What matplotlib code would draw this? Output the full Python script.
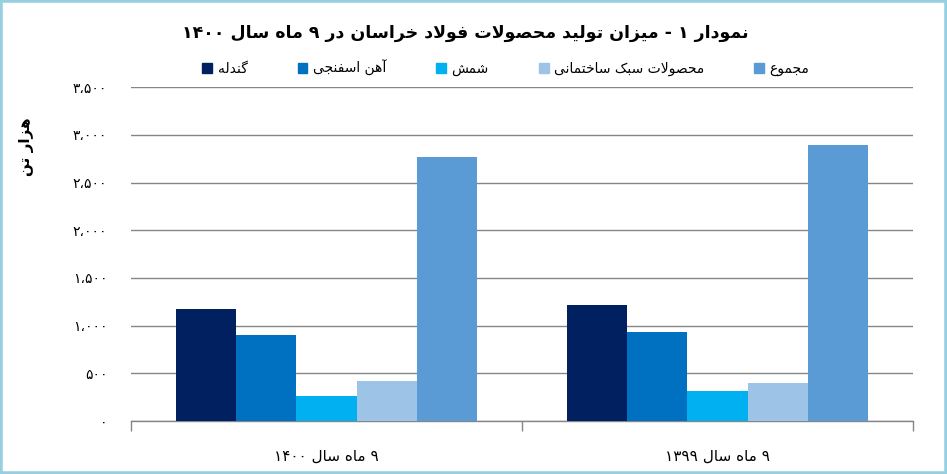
import re
import matplotlib
matplotlib.use("Agg")
import matplotlib.pyplot as plt
from matplotlib.patches import Rectangle, Patch

plt.rcParams['font.family'] = ['DejaVu Sans']

title = "نمودار ۱ - میزان تولید محصولات فولاد خراسان در ۹ ماه سال ۱۴۰۰"
ylabel = "هزار تن"
categories = ["۹ ماه سال ۱۴۰۰", "۹ ماه سال ۱۳۹۹"]
series = ["گندله", "آهن اسفنجی", "شمش", "محصولات سبک ساختمانی", "مجموع"]
colors = ["#002060", "#0070C0", "#00B0F0", "#9DC3E6", "#5B9BD5"]

pellet = [1175, 1217]
sponge_iron = [902, 934]
billet = [262, 315]
light_products = [420, 399]
total = [2769, 2895]
values = [pellet, sponge_iron, billet, light_products, total]

yticks = [0, 500, 1000, 1500, 2000, 2500, 3000, 3500]
ytick_labels = ["۰", "۵۰۰", "۱،۰۰۰", "۱،۵۰۰", "۲،۰۰۰", "۲،۵۰۰", "۳،۰۰۰", "۳،۵۰۰"]

# contextual forms (isolated, final, initial, medial)
FORMS = {
    'ا': ('\uFE8D', '\uFE8E', None, None),
    'آ': ('\uFE81', '\uFE82', None, None),
    'ب': ('\uFE8F', '\uFE90', '\uFE91', '\uFE92'),
    'پ': ('\uFB56', '\uFB57', '\uFB58', '\uFB59'),
    'ت': ('\uFE95', '\uFE96', '\uFE97', '\uFE98'),
    'ث': ('\uFE99', '\uFE9A', '\uFE9B', '\uFE9C'),
    'ج': ('\uFE9D', '\uFE9E', '\uFE9F', '\uFEA0'),
    'چ': ('\uFB7A', '\uFB7B', '\uFB7C', '\uFB7D'),
    'ح': ('\uFEA1', '\uFEA2', '\uFEA3', '\uFEA4'),
    'خ': ('\uFEA5', '\uFEA6', '\uFEA7', '\uFEA8'),
    'د': ('\uFEA9', '\uFEAA', None, None),
    'ذ': ('\uFEAB', '\uFEAC', None, None),
    'ر': ('\uFEAD', '\uFEAE', None, None),
    'ز': ('\uFEAF', '\uFEB0', None, None),
    'ژ': ('\uFB8A', '\uFB8B', None, None),
    'س': ('\uFEB1', '\uFEB2', '\uFEB3', '\uFEB4'),
    'ش': ('\uFEB5', '\uFEB6', '\uFEB7', '\uFEB8'),
    'ص': ('\uFEB9', '\uFEBA', '\uFEBB', '\uFEBC'),
    'ض': ('\uFEBD', '\uFEBE', '\uFEBF', '\uFEC0'),
    'ط': ('\uFEC1', '\uFEC2', '\uFEC3', '\uFEC4'),
    'ظ': ('\uFEC5', '\uFEC6', '\uFEC7', '\uFEC8'),
    'ع': ('\uFEC9', '\uFECA', '\uFECB', '\uFECC'),
    'غ': ('\uFECD', '\uFECE', '\uFECF', '\uFED0'),
    'ف': ('\uFED1', '\uFED2', '\uFED3', '\uFED4'),
    'ق': ('\uFED5', '\uFED6', '\uFED7', '\uFED8'),
    'ک': ('\uFB8E', '\uFB8F', '\uFB90', '\uFB91'),
    'گ': ('\uFB92', '\uFB93', '\uFB94', '\uFB95'),
    'ل': ('\uFEDD', '\uFEDE', '\uFEDF', '\uFEE0'),
    'م': ('\uFEE1', '\uFEE2', '\uFEE3', '\uFEE4'),
    'ن': ('\uFEE5', '\uFEE6', '\uFEE7', '\uFEE8'),
    'ه': ('\uFEE9', '\uFEEA', '\uFEEB', '\uFEEC'),
    'و': ('\uFEED', '\uFEEE', None, None),
    'ی': ('\uFBFC', '\uFBFD', '\uFBFE', '\uFBFF'),
}
LAM_ALEF = {'ا': ('\uFEFB', '\uFEFC'), 'آ': ('\uFEF5', '\uFEF6')}
DIGITS = "۰۱۲۳۴۵۶۷۸۹0123456789"


def joins_next(c):
    return c in FORMS and FORMS[c][2] is not None


def shape(s):
    out = []
    i = 0
    while i < len(s):
        c = s[i]
        if c not in FORMS:
            out.append(c)
            i += 1
            continue
        link_prev = i > 0 and joins_next(s[i-1])
        if c == 'ل' and i+1 < len(s) and s[i+1] in LAM_ALEF:
            iso, fin = LAM_ALEF[s[i+1]]
            out.append(fin if link_prev else iso)
            i += 2
            continue
        link_next = joins_next(c) and i+1 < len(s) and s[i+1] in FORMS
        f = FORMS[c]
        if link_prev and link_next:
            out.append(f[3])
        elif link_prev:
            out.append(f[1])
        elif link_next:
            out.append(f[2])
        else:
            out.append(f[0])
        i += 1
    return ''.join(out)


def fa(s):
    #shape letters, then lay out right to left keeping numbers left to right
    s = shape(s)
    runs = re.findall(r'[۰-۹0-9]+(?:[،٬,.][۰-۹0-9]+)*|[^۰-۹0-9]+', s)
    return ''.join(r if r[0] in DIGITS else r[::-1] for r in reversed(runs))


fig = plt.figure(figsize=(9.47, 4.74), dpi=100)
ax = fig.add_axes([131/947, 1-421/474, (913-131)/947, (421-87.3)/474])

width = 0.154
x = range(len(categories))
for k, (name, vals) in enumerate(zip(series, values)):
    offs = (k - 2) * width
    ax.bar([xi + offs for xi in x], vals, width, color=colors[k], label=fa(name), zorder=3)

ax.set_xlim(-0.5, 1.5)
ax.set_ylim(0, 3500)
ax.set_yticks(yticks)
ax.set_yticklabels([fa(t) for t in ytick_labels], fontsize=10)
ax.tick_params(axis='y', length=0, pad=17)
ax.yaxis.grid(True, color='#868686', linewidth=1.0, zorder=0)

# category boundaries as ticks, labels on minor ticks
ax.set_xticks([-0.5, 0.5, 1.5])
ax.set_xticklabels([])
ax.tick_params(axis='x', which='major', length=7, color='#868686', width=1.0, direction='out')
ax.set_xticks(list(x), minor=True)
ax.set_xticklabels([fa(c) for c in categories], minor=True, fontsize=11)
ax.tick_params(axis='x', which='minor', length=0, pad=20)

for side in ['left', 'right', 'top']:
    ax.spines[side].set_visible(False)
ax.spines['bottom'].set_color('#868686')
ax.spines['bottom'].set_linewidth(1.0)

fig.text(465/947, 1-33/474, fa(title), ha='center', va='center', fontsize=12.5, fontweight='bold')
fig.text(27/947, 1-147/474, fa(ylabel), ha='center', va='center', rotation=90, fontsize=11, fontweight='bold')

handles = [Patch(color=c, label=fa(n)) for c, n in zip(colors, series)]
fig.legend(handles=handles, loc='center', bbox_to_anchor=(506/947, 1-68/474), ncol=5,
           frameon=False, fontsize=10, handlelength=0.7, handleheight=0.7,
           handletextpad=0.4, columnspacing=3.6)

# light blue frame around the picture
fig.patches.append(Rectangle((0, 0), 1, 1, transform=fig.transFigure, fill=False,
                             edgecolor='#97CFE0', linewidth=4.0, zorder=10))

fig.savefig("out.png", dpi=100)
